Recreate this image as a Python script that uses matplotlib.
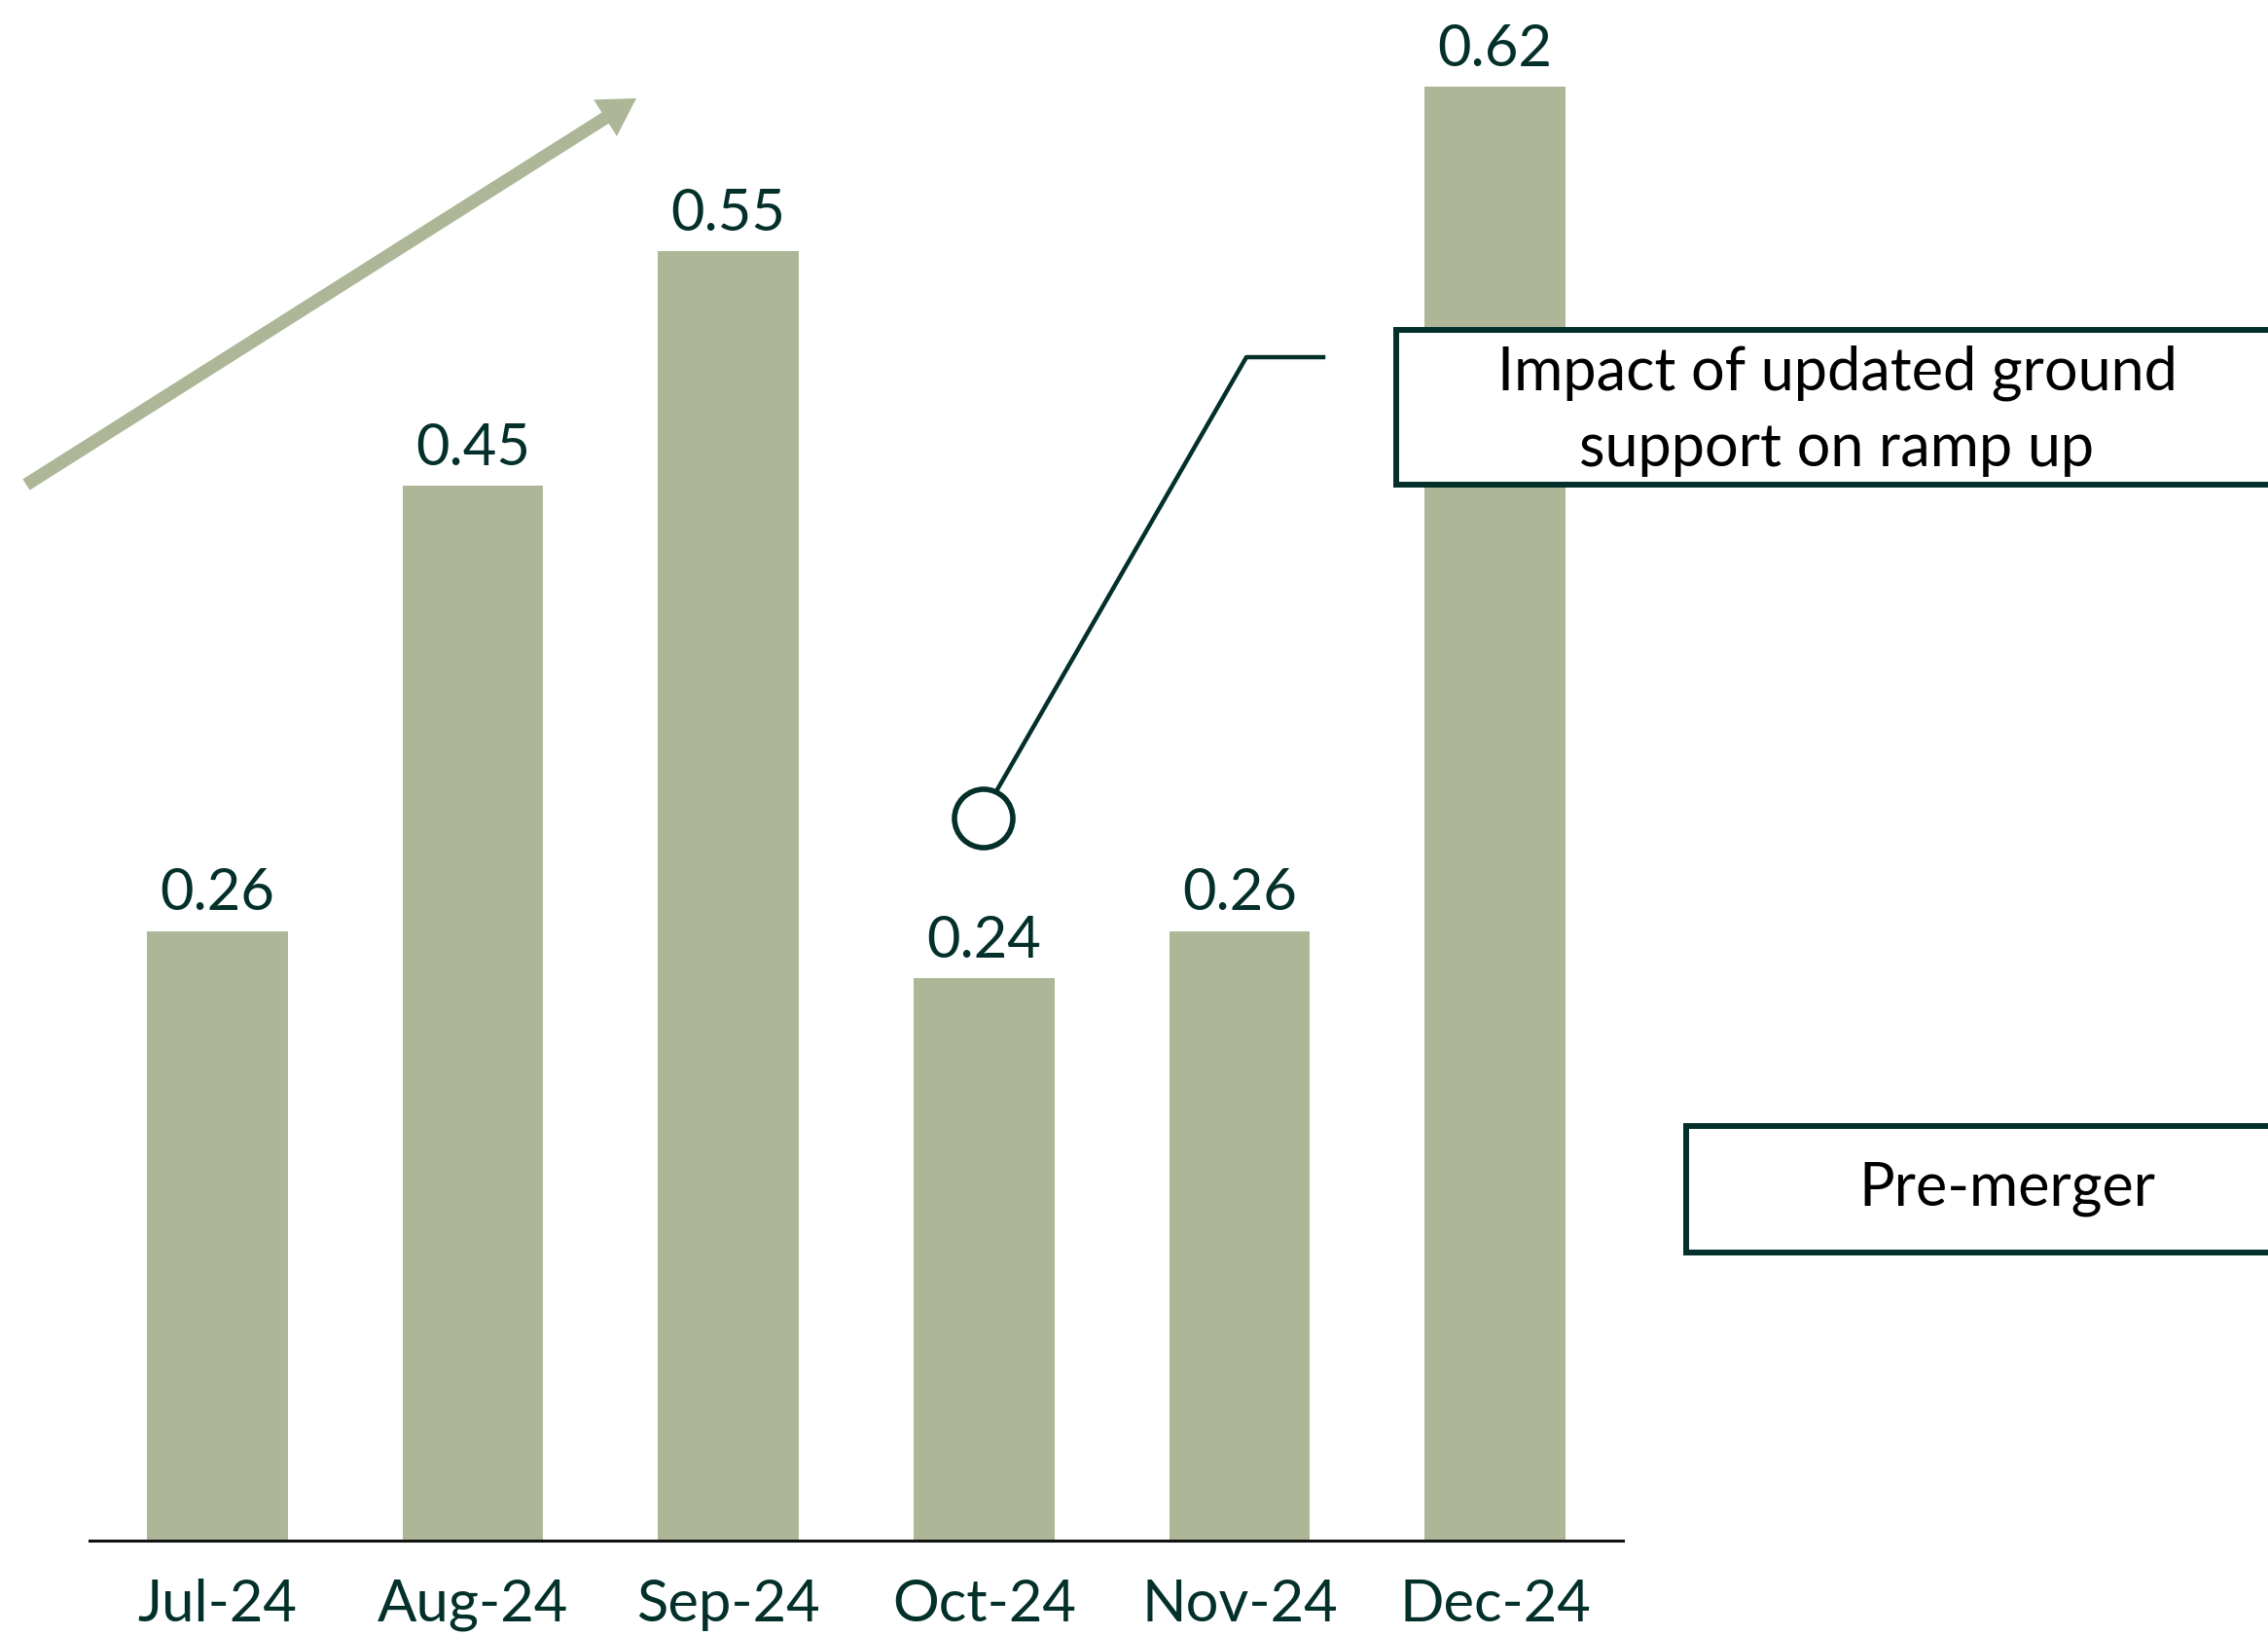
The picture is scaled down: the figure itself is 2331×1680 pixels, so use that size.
import matplotlib.pyplot as plt
from matplotlib.patches import Rectangle, Circle, FancyArrowPatch
from matplotlib.lines import Line2D

months = ['Jul-24', 'Aug-24', 'Sep-24', 'Oct-24', 'Nov-24', 'Dec-24']
values = [0.26, 0.45, 0.55, 0.24, 0.26, 0.62]
labels = ['0.26', '0.45', '0.55', '0.24', '0.26', '0.62']
callout_text = 'Impact of updated ground\nsupport on ramp up'
box_text = 'Pre-merger'

bar_color = '#adb798'
dark = '#03302a'

plt.rcParams['font.family'] = ['Lato', 'DejaVu Sans']

W, H = 2331, 1680
fig = plt.figure(figsize=(W / 100, H / 100), dpi=100)


def fx(px):
    return px / W


def fy(py):
    # pixel from top -> figure fraction from bottom
    return 1 - py / H


ax = fig.add_axes([fx(92), fy(1583), fx(1668) - fx(92), fy(0) - fy(1583)])
x = range(len(months))
bars = ax.bar(x, values, width=0.55, color=bar_color, zorder=2)
ax.set_xlim(-0.5, 5.5)
ax.set_ylim(0, 0.657)

for b, lab in zip(bars, labels):
    ax.annotate(lab, (b.get_x() + b.get_width() / 2, b.get_height()),
                xytext=(0, 8), textcoords='offset points',
                ha='center', va='bottom', fontsize=43, color=dark)

ax.set_xticks(list(x))
ax.set_xticklabels(months, fontsize=43, color=dark)
ax.tick_params(axis='x', length=0, pad=28)
ax.set_yticks([])
for s in ['top', 'right', 'left']:
    ax.spines[s].set_visible(False)
ax.spines['bottom'].set_linewidth(2.2)
ax.spines['bottom'].set_color('#111111')

# trend arrow
arrow = FancyArrowPatch((fx(27), fy(498)), (fx(654), fy(101)),
                        transform=fig.transFigure,
                        arrowstyle='simple,head_length=0.85,head_width=1.0,tail_width=0.3',
                        mutation_scale=32, color=bar_color, lw=0,
                        shrinkA=0, shrinkB=0)
fig.add_artist(arrow)

# callout marker + leader line
circ = Circle((1011, H - 841), 30, transform=None, fill=False,
              edgecolor=dark, lw=4)
fig.add_artist(circ)
fig.add_artist(Line2D([fx(1024), fx(1281), fx(1360)],
                      [fy(813), fy(367), fy(367)],
                      transform=fig.transFigure, color=dark, lw=3.2))

# callout box
fig.add_artist(Rectangle((fx(1435), fy(498)), fx(2400) - fx(1435), fy(339) - fy(498),
                         transform=fig.transFigure, facecolor='white',
                         edgecolor=dark, lw=4.3, zorder=3))
fig.text(fx(1888), fy(422), callout_text, ha='center', va='center',
         fontsize=44, color='black', linespacing=1.45, zorder=4)

# pre-merger box
fig.add_artist(Rectangle((fx(1733), fy(1287)), fx(2400) - fx(1733), fy(1157) - fy(1287),
                         transform=fig.transFigure, facecolor='white',
                         edgecolor=dark, lw=4.3, zorder=3))
fig.text(fx(2063), fy(1222), box_text, ha='center', va='center',
         fontsize=44, color='black', zorder=4)

fig.savefig('out.png', dpi=100)
